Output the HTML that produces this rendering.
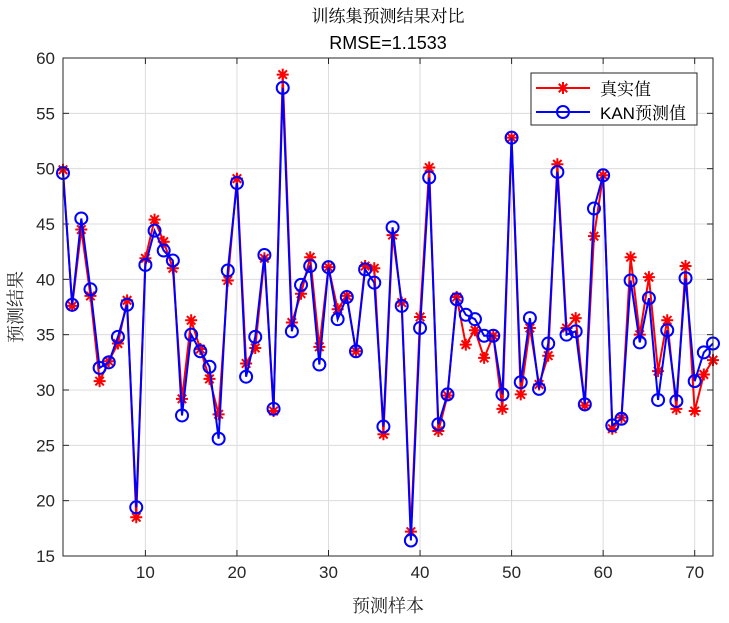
<!DOCTYPE html>
<html><head><meta charset="utf-8"><style>
body{margin:0;background:#fff;}
svg text{font-family:"Liberation Sans","Noto Serif CJK SC",serif;}
</style></head><body>
<svg id="s" width="729" height="618" xmlns="http://www.w3.org/2000/svg"></svg>
<script>
const R=[49.9,37.6,44.5,38.5,30.8,32.6,34.2,38.1,18.5,41.9,45.4,43.4,41.0,29.2,36.3,33.7,31.0,27.8,39.9,49.1,32.4,33.8,41.9,28.1,58.5,36.1,38.7,42.0,33.9,41.1,37.3,38.5,33.5,41.2,41.0,26.0,44.0,37.9,17.2,36.6,50.1,26.3,29.5,38.4,34.1,35.4,32.9,34.9,28.3,52.8,29.6,35.6,30.5,33.1,50.4,35.6,36.5,28.6,43.9,49.4,26.5,27.5,42.0,35.0,40.2,31.7,36.3,28.3,41.2,28.1,31.4,32.7];
const P=[49.6,37.7,45.5,39.1,32.0,32.5,34.8,37.7,19.4,41.3,44.4,42.6,41.7,27.7,35.0,33.5,32.1,25.6,40.8,48.7,31.2,34.8,42.2,28.3,57.3,35.3,39.5,41.2,32.3,41.1,36.4,38.4,33.5,40.9,39.7,26.7,44.7,37.6,16.4,35.6,49.2,26.9,29.6,38.2,36.8,36.4,34.9,34.9,29.6,52.8,30.7,36.5,30.1,34.2,49.7,35.0,35.3,28.7,46.4,49.4,26.8,27.4,39.9,34.3,38.3,29.1,35.4,29.0,40.1,30.8,33.4,34.2];
const L=63,Rr=713,T=58,B=556;
const X=i=>L+(i-1)*(Rr-L)/71, Y=v=>B-(v-15)*(B-T)/45;
let s='<rect x="'+L+'" y="'+T+'" width="'+(Rr-L)+'" height="'+(B-T)+'" fill="#fff"/>';
for(let v=15;v<=60;v+=5){const y=Y(v);s+=`<line x1="${L}" x2="${Rr}" y1="${y}" y2="${y}" stroke="#dcdcdc"/>`;s+=`<line x1="${L}" x2="${L+6}" y1="${y}" y2="${y}" stroke="#262626"/><line x1="${Rr-6}" x2="${Rr}" y1="${y}" y2="${y}" stroke="#262626"/>`;s+=`<text x="${L-8}" y="${y+6}" font-size="17" text-anchor="end" fill="#262626">${v}</text>`;}
for(let v=10;v<=70;v+=10){const x=X(v);s+=`<line x1="${x}" x2="${x}" y1="${T}" y2="${B}" stroke="#dcdcdc"/>`;s+=`<line x1="${x}" x2="${x}" y1="${B}" y2="${B-6}" stroke="#262626"/><line x1="${x}" x2="${x}" y1="${T}" y2="${T+6}" stroke="#262626"/>`;s+=`<text x="${x}" y="${B+22}" font-size="17" text-anchor="middle" fill="#262626">${v}</text>`;}
const star=(x,y)=>{let d='';for(let a=0;a<4;a++){const t=a*Math.PI/4,dx=6*Math.cos(t),dy=6*Math.sin(t);d+=`M${x-dx} ${y-dy}L${x+dx} ${y+dy}`;}return `<path d="${d}" stroke="#f00" stroke-width="2"/>`;};
s+=`<polyline fill="none" stroke="#f00" stroke-width="2" points="${R.map((v,i)=>X(i+1)+','+Y(v)).join(' ')}"/>`;
R.forEach((v,i)=>s+=star(X(i+1),Y(v)));
s+=`<polyline fill="none" stroke="#00f" stroke-width="2" points="${P.map((v,i)=>X(i+1)+','+Y(v)).join(' ')}"/>`;
P.forEach((v,i)=>s+=`<circle cx="${X(i+1)}" cy="${Y(v)}" r="6" fill="none" stroke="#00f" stroke-width="2"/>`);
s+=`<rect x="${L}" y="${T}" width="${Rr-L}" height="${B-T}" fill="none" stroke="#262626"/>`;
s+=`<rect x="531" y="73" width="166" height="52" fill="#fff" stroke="#262626"/>`;
s+=`<line x1="536" x2="590" y1="88" y2="88" stroke="#f00" stroke-width="2"/>`+star(563,88);
s+=`<text x="600" y="95" font-size="17" fill="#000">真实值</text>`;
s+=`<line x1="536" x2="590" y1="112" y2="112" stroke="#00f" stroke-width="2"/><circle cx="563" cy="112" r="6" fill="none" stroke="#00f" stroke-width="2"/>`;
s+=`<text x="600" y="119" font-size="17" fill="#000">KAN预测值</text>`;
s+=`<text x="388" y="22" font-size="17" text-anchor="middle" fill="#000">训练集预测结果对比</text>`;
s+=`<text x="388" y="49" font-size="18" text-anchor="middle" fill="#000">RMSE=1.1533</text>`;
s+=`<text x="388" y="612" font-size="18" text-anchor="middle" fill="#262626">预测样本</text>`;
s+=`<text transform="translate(22,307) rotate(-90)" font-size="18" text-anchor="middle" fill="#262626">预测结果</text>`;
document.getElementById('s').innerHTML=s;
</script>
</body></html>
